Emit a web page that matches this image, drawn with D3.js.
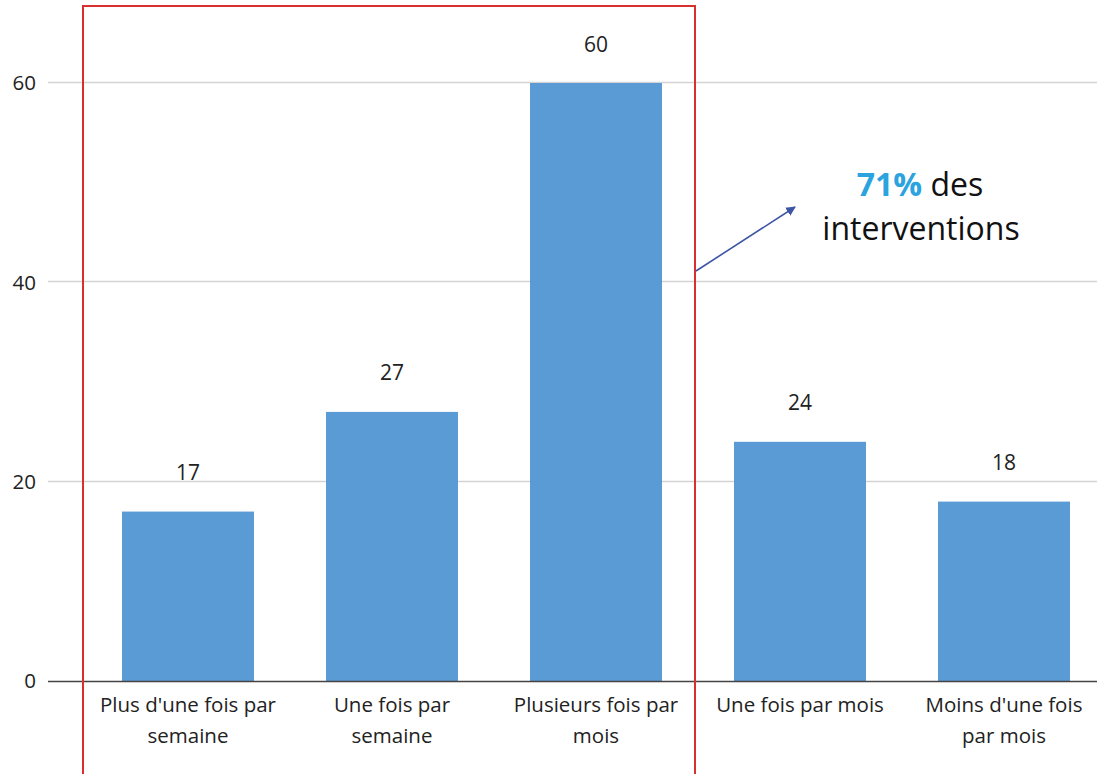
<!DOCTYPE html>
<html><head><meta charset="utf-8">
<script src="https://cdn.jsdelivr.net/npm/d3@7"></script>
<style>body{margin:0;background:#fff}svg{display:block}</style>
</head><body>
<script>
const categories = [["Plus d'une fois par","semaine"],["Une fois par","semaine"],["Plusieurs fois par","mois"],["Une fois par mois"],["Moins d'une fois","par mois"]];
const values = [17, 27, 60, 24, 18];
const yTicks = [0, 20, 40, 60];
const annotation = {bold: "71%", rest: " des", line2: "interventions"};

const W = 1097, H = 774;
const font = "'Open Sans', Lato, sans-serif";
const svg = d3.select("body").append("svg").attr("width", W).attr("height", H);

const x = d3.scaleBand().domain(d3.range(values.length)).range([86, 1106]).paddingInner(0.353).paddingOuter(0.1765);
const y = d3.scaleLinear().domain([0, 60]).range([681, 83]);

// gridlines
svg.append("g").selectAll("line").data(yTicks.filter(d => d > 0)).join("line")
  .attr("x1", 48).attr("x2", W).attr("y1", d => Math.round(y(d)) - 0.5).attr("y2", d => Math.round(y(d)) - 0.5)
  .attr("stroke", "#d4d4d4").attr("stroke-width", 1.5);

// y tick labels
svg.append("g").selectAll("text").data(yTicks).join("text")
  .attr("x", 36).attr("y", d => y(d)).attr("dy", "0.36em").attr("text-anchor", "end")
  .attr("font-family", font).attr("font-size", 20.5).attr("fill", "#222").text(d => d);

// bars
svg.append("g").selectAll("rect").data(values).join("rect")
  .attr("x", (d, i) => x(i)).attr("width", x.bandwidth())
  .attr("y", d => y(d)).attr("height", d => y(0) - y(d))
  .attr("fill", "#5b9bd5");

// value labels
svg.append("g").selectAll("text").data(values).join("text")
  .attr("x", (d, i) => x(i) + x.bandwidth() / 2).attr("y", d => y(d) - 39).attr("dy", "0.36em")
  .attr("text-anchor", "middle").attr("font-family", font).attr("font-size", 21).attr("fill", "#222").text(d => d);

// axis line
svg.append("line").attr("x1", 48).attr("x2", W).attr("y1", y(0) + 0.5).attr("y2", y(0) + 0.5)
  .attr("stroke", "#444").attr("stroke-width", 1.5);

// category labels
const cl = svg.append("g").selectAll("text").data(categories).join("text")
  .attr("text-anchor", "middle").attr("font-family", font).attr("font-size", 20.5).attr("fill", "#222");
cl.each(function(lines, i) {
  d3.select(this).selectAll("tspan").data(lines).join("tspan")
    .attr("x", x(i) + x.bandwidth() / 2).attr("y", (d, j) => 712 + j * 31).text(d => d);
});

// red rectangle
svg.append("rect").attr("x", 83).attr("y", 6).attr("width", 612).attr("height", 800)
  .attr("fill", "none").attr("stroke", "#d9302f").attr("stroke-width", 2);

// arrow
const defs = svg.append("defs");
defs.append("marker").attr("id", "ah").attr("viewBox", "0 0 10 10").attr("refX", 9).attr("refY", 5)
  .attr("markerWidth", 6).attr("markerHeight", 6).attr("orient", "auto")
  .append("path").attr("d", "M0,0 L10,5 L0,10 z").attr("fill", "#3d55a5");
svg.append("line").attr("x1", 696).attr("y1", 271).attr("x2", 795).attr("y2", 207)
  .attr("stroke", "#3d55a5").attr("stroke-width", 1.6).attr("marker-end", "url(#ah)");

// annotation text
const t1 = svg.append("text").attr("x", 920).attr("y", 196).attr("text-anchor", "middle")
  .attr("font-family", font).attr("font-size", 32).attr("fill", "#111");
t1.append("tspan").attr("font-weight", "bold").attr("fill", "#2aa3df").text(annotation.bold);
t1.append("tspan").text(annotation.rest);
svg.append("text").attr("x", 921).attr("y", 240).attr("text-anchor", "middle")
  .attr("font-family", font).attr("font-size", 32).attr("fill", "#111").text(annotation.line2);
</script>
</body></html>
